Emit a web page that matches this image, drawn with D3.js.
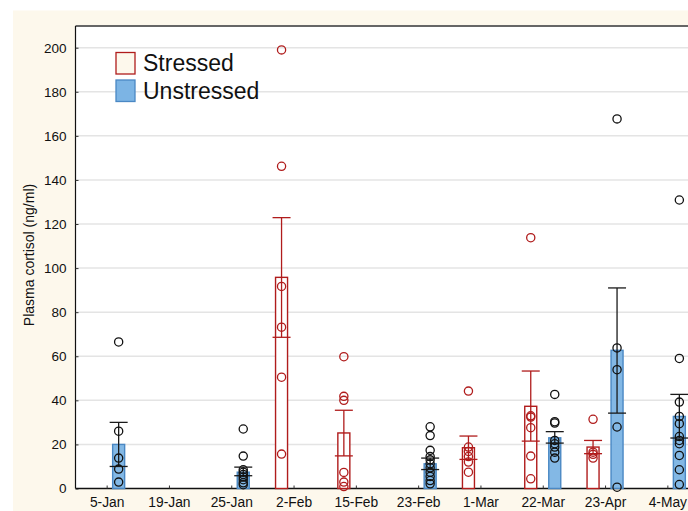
<!DOCTYPE html>
<html>
<head>
<meta charset="utf-8">
<script src="https://cdn.jsdelivr.net/npm/d3@7"></script>
<style>
  html, body { margin: 0; padding: 0; background: #ffffff; }
  svg { display: block; }
  text { font-family: "Liberation Sans", Arial, sans-serif; }
</style>
</head>
<body>
<svg id="chart" width="688" height="511"></svg>
<script>
// ---- data ----
const categories = ["5-Jan", "19-Jan", "25-Jan", "2-Feb", "15-Feb", "23-Feb", "1-Mar", "22-Mar", "23-Apr", "4-May"];
const groups = ["Stressed", "Unstressed"];
const yTicks = [0, 20, 40, 60, 80, 100, 120, 140, 160, 180, 200];

const stressedMean = [null, null, null, 95.8, 25.2, null, 18.5, 37.3, 18.8, null];
const stressedLow  = [null, null, null, 68.6, 14.8, null, 13.2, 21.5, 15.8, null];
const stressedHigh = [null, null, null, 122.9, 35.5, null, 23.8, 53.3, 21.8, null];
const stressedPoints = [
  [], [], [],
  [199, 146.2, 91.7, 73.2, 50.5, 15.6],
  [59.8, 41.8, 40, 7.3, 2.9, 0.9],
  [],
  [44.2, 18.8, 16.8, 14.5, 12, 7.4],
  [113.8, 33, 32.4, 27.6, 14.7, 4.4],
  [31.4, 16.5, 15.5, 13.8],
  []
];

const unstressedMean = [20, null, 7.4, null, null, 11.2, null, 23, 62.7, 32.7];
const unstressedLow  = [10, null, 5.8, null, null, 8.6, null, 20.6, 34.2, 22.9];
const unstressedHigh = [30, null, 9.7, null, null, 13.8, null, 25.8, 91, 42.7];
const unstressedPoints = [
  [66.5, 26, 13.8, 8.8, 2.9],
  [],
  [27, 14.7, 8.5, 7.4, 6.4, 5.2, 4, 2.6, 1.7],
  [], [],
  [28, 24, 17.3, 14.5, 13, 11.2, 9.4, 7.4, 5.5, 3.6, 2.1],
  [],
  [42.7, 30.3, 29.7, 21.8, 20.3, 18.8, 16.5, 13.8],
  [167.7, 63.8, 53.9, 27.9, 0.6],
  [130.9, 59, 39.2, 32.7, 29.4, 23.6, 21.8, 20.3, 15, 8.5, 1.8]
];

// ---- layout ----
const svg = d3.select("#chart");
const W = 688, H = 511;
const plot = { left: 75.5, top: 26, right: 698.5, bottom: 488.5 };
const cream = "#fdf8ec";
const red = "#b01c1c";
const blueFill = "#7cb4e4";
const blueStroke = "#4a88c4";

svg.append("rect").attr("x", 13).attr("y", 10.5).attr("width", W - 13).attr("height", H - 10.5).attr("fill", cream);
svg.append("rect").attr("x", plot.left).attr("y", plot.top)
  .attr("width", plot.right - plot.left).attr("height", plot.bottom - plot.top).attr("fill", "#ffffff");

const x = d3.scalePoint().domain(categories).range([plot.left, plot.right]).padding(0.5);
const xs = d3.scaleBand().domain(groups).range([-18, 18]).paddingInner(0.5).paddingOuter(0);
const y = d3.scaleLinear().domain([0, 200]).range([plot.bottom, 47.7]);

// gridlines
svg.append("g").selectAll("line").data(yTicks.filter(t => t > 0)).join("line")
  .attr("x1", plot.left).attr("x2", plot.right)
  .attr("y1", d => y(d)).attr("y2", d => y(d))
  .attr("stroke", "#e4e4e4").attr("stroke-width", 1.5);

// top border
svg.append("line").attr("x1", plot.left).attr("x2", W).attr("y1", plot.top).attr("y2", plot.top)
  .attr("stroke", "#666").attr("stroke-width", 2);

// y axis
const yAxis = svg.append("g").attr("transform", `translate(${plot.left},0)`)
  .call(d3.axisLeft(y).tickValues(yTicks).tickSize(-3).tickPadding(9).tickFormat(d3.format("d")));
yAxis.select(".domain").attr("stroke", "#111").attr("stroke-width", 1.2)
  .attr("d", `M0,${plot.top}V${plot.bottom}`);
yAxis.selectAll(".tick line").attr("stroke", "#333");
yAxis.selectAll(".tick text").attr("font-size", 13.5).attr("fill", "#111")
  .style("font-family", '"Liberation Sans", Arial, sans-serif');

// x axis
const xAxis = svg.append("g").attr("transform", `translate(0,${plot.bottom})`)
  .call(d3.axisBottom(x).tickSize(-3).tickPadding(9));
xAxis.select(".domain").attr("stroke", "#111").attr("stroke-width", 1.5)
  .attr("d", `M${plot.left},0H${plot.right}`);
xAxis.selectAll(".tick line").attr("stroke", "#333");
xAxis.selectAll(".tick text").attr("font-size", 13.8).attr("fill", "#111")
  .style("font-family", '"Liberation Sans", Arial, sans-serif');

// y label
svg.append("text")
  .attr("transform", `translate(34,255) rotate(-90)`)
  .attr("text-anchor", "middle").attr("font-size", 14).attr("fill", "#111")
  .text("Plasma cortisol (ng/ml)");

// series
const series = [
  { name: "Stressed", mean: stressedMean, low: stressedLow, high: stressedHigh, pts: stressedPoints,
    fill: "#ffffff", stroke: red, err: red, pt: red },
  { name: "Unstressed", mean: unstressedMean, low: unstressedLow, high: unstressedHigh, pts: unstressedPoints,
    fill: blueFill, stroke: blueStroke, err: "#1a1a1a", pt: "#111" }
];

const gBars = svg.append("g");
const gErr = svg.append("g");
const gPts = svg.append("g");
const cap = 9;

series.forEach(s => {
  categories.forEach((c, i) => {
    const cx = x(c) + xs(s.name) + xs.bandwidth() / 2;
    if (s.mean[i] != null) {
      gBars.append("rect")
        .attr("x", x(c) + xs(s.name)).attr("width", xs.bandwidth())
        .attr("y", y(s.mean[i])).attr("height", y(0) - y(s.mean[i]))
        .attr("fill", s.fill).attr("fill-opacity", s.name === "Unstressed" ? 0.95 : 1)
        .attr("stroke", s.stroke).attr("stroke-width", 1.4);
      const e = gErr.append("g").attr("stroke", s.err).attr("stroke-width", 1.3).attr("fill", "none");
      e.append("line").attr("x1", cx).attr("x2", cx).attr("y1", y(s.low[i])).attr("y2", y(s.high[i]));
      e.append("line").attr("x1", cx - cap).attr("x2", cx + cap).attr("y1", y(s.low[i])).attr("y2", y(s.low[i]));
      e.append("line").attr("x1", cx - cap).attr("x2", cx + cap).attr("y1", y(s.high[i])).attr("y2", y(s.high[i]));
    }
    gPts.selectAll(null).data(s.pts[i]).join("circle")
      .attr("cx", cx).attr("cy", d => y(d)).attr("r", 4.1)
      .attr("fill", "none").attr("stroke", s.pt).attr("stroke-width", 1.3);
  });
});

// legend
const legend = svg.append("g");
const legendItems = [
  { label: "Stressed", fill: cream, stroke: red, y: 52.5 },
  { label: "Unstressed", fill: blueFill, stroke: blueStroke, y: 80 }
];
legendItems.forEach(d => {
  legend.append("rect").attr("x", 116).attr("y", d.y).attr("width", 19).attr("height", 21.5)
    .attr("fill", d.fill).attr("stroke", d.stroke).attr("stroke-width", 1.3);
  legend.append("text").attr("x", 143).attr("y", d.y + 18.5)
    .attr("font-size", 23).attr("fill", "#111").text(d.label);
});
</script>
</body>
</html>
